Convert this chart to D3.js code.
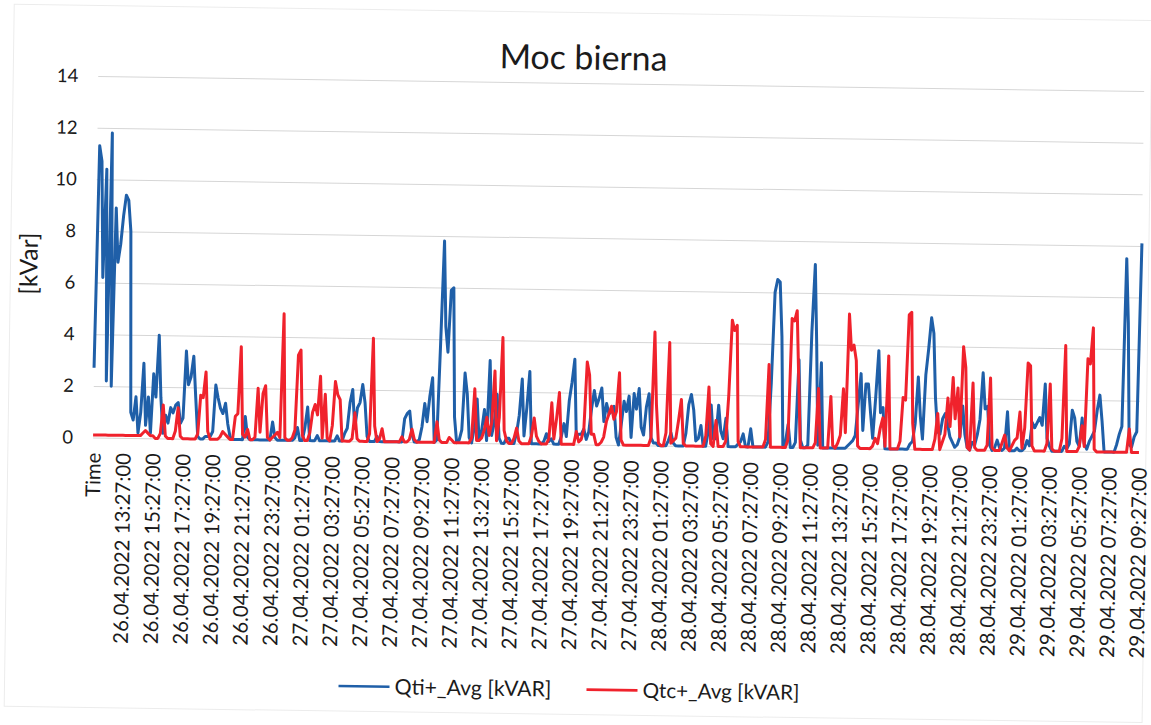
<!DOCTYPE html>
<html>
<head>
<meta charset="utf-8">
<script src="https://cdn.jsdelivr.net/npm/d3@7"></script>
<style>
  body { margin: 0; background: #fff; }
  text { font-family: Lato, "Open Sans", sans-serif; fill: #1b1b1b; }
</style>
</head>
<body>
<div id="chart"></div>
<script>
// category labels shown every 12th sample (10 min readings)
const timeLabels = ["Time",
  "26.04.2022 13:27:00", "26.04.2022 15:27:00", "26.04.2022 17:27:00", "26.04.2022 19:27:00",
  "26.04.2022 21:27:00", "26.04.2022 23:27:00",
  "27.04.2022 01:27:00", "27.04.2022 03:27:00", "27.04.2022 05:27:00", "27.04.2022 07:27:00",
  "27.04.2022 09:27:00", "27.04.2022 11:27:00", "27.04.2022 13:27:00", "27.04.2022 15:27:00",
  "27.04.2022 17:27:00", "27.04.2022 19:27:00", "27.04.2022 21:27:00", "27.04.2022 23:27:00",
  "28.04.2022 01:27:00", "28.04.2022 03:27:00", "28.04.2022 05:27:00", "28.04.2022 07:27:00",
  "28.04.2022 09:27:00", "28.04.2022 11:27:00", "28.04.2022 13:27:00", "28.04.2022 15:27:00",
  "28.04.2022 17:27:00", "28.04.2022 19:27:00", "28.04.2022 21:27:00", "28.04.2022 23:27:00",
  "29.04.2022 01:27:00", "29.04.2022 03:27:00", "29.04.2022 05:27:00", "29.04.2022 07:27:00",
  "29.04.2022 09:27:00"];

// Qti+_Avg [kVAR]
const qti = [
  2.7, 11.3, 10.7, 6.2, 10.4, 2.2, 11.8, 2.0, 8.9, 6.8, 7.5, 8.6,
  9.4, 9.2, 8.0, 1.0, 0.7, 1.6, 0.2, 1.0, 2.9, 0.5, 1.6, 0.2,
  2.5, 1.6, 4.0, 1.6, 0.2, 0.9, 0.6, 1.2, 1.0, 1.3, 1.4, 0.6,
  0.8, 3.4, 2.1, 2.4, 3.2, 1.6, 0.1, 0, 0, 0.1, 0.1, 0.1,
  0.3, 2.1, 1.6, 1.2, 1.0, 1.4, 0.6, 0.1, 0, 0, 0, 0,
  0, 0.9, 0.1, 0, 0, 0, 0, 0, 0, 0, 0, 0,
  0.7, 0.1, 0, 0, 0, 0, 0, 0, 0, 0.1, 0.5, 0,
  0, 0.5, 1.3, 0, 0, 0, 0.2, 0, 0, 0, 0, 0,
  0, 0, 0.2, 0, 0, 0.3, 0.5, 1.5, 2.0, 0.5, 1.3,
  1.5, 2.2, 1.5, 0.2, 0, 0, 0, 0.2, 0, 0, 0, 0,
  0, 0, 0, 0, 0, 0, 0.9, 1.1, 1.2, 0.3, 0, 0,
  0.1, 0.6, 1.5, 0.8, 1.8, 2.5, 0, 0.1, 3.8, 7.8, 4.5, 3.5,
  5.9, 6.0, 1.0, 0, 0.1, 0.5, 2.7, 1.9, 0.2, 0, 0.6, 1.7,
  0.1, 0.5, 1.3, 0.1, 3.2, 0.3, 0.8, 1.9, 0.2, 0, 0, 0.2,
  0.2, 0, 0, 0.4, 1.1, 2.5, 0.3, 1.4, 2.8, 0, 0, 0,
  0, 0, 0.1, 0.4, 0.1, 0.2, 0, 0, 0, 0.3, 0.8, 0.3,
  1.7, 2.4, 3.3, 0.3, 0.4, 0.4, 0.6, 0.2, 0.5, 1.4, 2.1,
  1.5, 1.8, 2.2, 0.9, 1.6, 1.2, 1.3, 1.5, 0.3, 0, 0.8, 1.7,
  1.3, 1.9, 0.3, 2.0, 1.4, 2.2, 0.7, 0.4, 1.5, 2.0, 0.3, 0.1,
  0.1, 0, 0, 0, 0, 0.2, 0.5, 0.1, 0, 0, 0, 0,
  0.5, 1.6, 2.0, 1.4, 0.2, 0.3, 0.8, 0, 0, 0.6, 1.6, 0.3,
  0.3, 1.6, 0.6, 0.3, 1.1, 0, 0, 0, 0, 0.1, 0.2, 0.5,
  0, 0, 0.7, 0, 0, 0, 0, 0, 0, 0.2, 2.5, 6.0,
  6.5, 6.4, 4.3, 0, 0.2, 0.9, 0, 0, 0.2, 3.4, 0.3, 0,
  0, 0.1, 4.5, 7.1, 4.0, 0.1, 3.3, 0, 0, 0, 0, 0,
  0, 0, 0, 0, 0, 0.1, 0.2, 0.3, 0.5, 1.7, 2.9, 0.7,
  2.5, 2.5, 1.4, 0.4, 2.0, 3.8, 1.4, 1.6, 0, 0, 0,
  0, 0, 0, 0, 0, 0, 0, 0.2, 0.3, 1.0, 2.8, 1.3,
  0.4, 2.9, 3.9, 5.1, 4.5, 2.0, 0.7, 0.6, 1.2, 1.4, 1.0, 0.5,
  0.3, 0.1, 0.2, 0.5, 1.7, 0.6, 0.1, 0, 0.3, 0.2, 0.6, 1.2,
  3.0, 1.6, 1.7, 0.2, 0, 0.1, 0.4, 0.1, 0, 0.1, 1.5, 0,
  0, 0, 0.1, 0, 0, 0.1, 0.4, 0.2, 1.1, 0.9, 1.1, 1.3,
  1.0, 2.6, 0.5, 0.2, 0, 0, 0, 0, 0, 0.2, 0.1, 0.3,
  1.6, 1.3, 0.4, 0.2, 1.3, 0.3, 0.1, 0.4, 0.6, 0.8, 1.6, 2.2,
  1.2, 0, 0, 0, 0, 0, 0.3, 0.7, 1.0, 7.5, 5.0, 0.3, 0.2, 0.6, 0.8, 8.1
];

// Qtc+_Avg [kVAR]
const qtc = [
  0.1, 0.1, 0.1, 0.1, 0.1, 0.1, 0.1, 0.1, 0.1, 0.1, 0.1, 0.1,
  0.1, 0.1, 0.1, 0.1, 0.1, 0.1, 0.1, 0.1, 0.2, 0.3, 0.2, 0.1,
  0.1, 0, 0, 0.2, 1.3, 0.1, 0, 0, 0, 0.3, 1.2, 0.1,
  0, 0, 0, 0, 0, 0, 0.2, 1.7, 1.6, 2.6, 0.3, 0,
  0, 0, 0, 0.1, 0.3, 0.2, 0.1, 0, 0, 0.9, 1.0, 3.6,
  0.2, 0.1, 0.4, 0, 0, 0.1, 2.0, 0.3, 1.8, 2.1, 0.1, 0,
  0.1, 0.2, 0.3, 0.1, 4.9, 0.1, 0, 0, 0.1, 0.4, 3.3, 3.5,
  0.2, 0, 0, 0.3, 1.1, 1.4, 1.0, 2.5, 0.1, 1.8, 0.1, 0,
  0.6, 2.3, 1.8, 1.6, 0, 0, 0, 0, 0.1, 1.1, 0.1,
  0, 0, 0, 0, 0.3, 4.0, 0.6, 0, 0.1, 0.5, 0, 0,
  0, 0, 0, 0, 0, 0.2, 0, 0, 0.1, 0.5, 0.1, 0,
  0, 0, 0, 0, 0, 0, 0, 0.8, 0.1, 0, 0, 0,
  0.2, 0.1, 0, 0, 0, 0, 0, 0, 0, 0.2, 2.1, 0.1,
  0.1, 0.2, 0.5, 1.0, 0.3, 0.8, 2.8, 0.1, 1.0, 4.1, 0.5, 0.1,
  0, 0, 0.2, 0.6, 0.1, 0, 0, 0, 0, 0.3, 1.0, 0.3,
  0.1, 0, 0, 0, 0.2, 1.6, 0.2, 1.0, 2.0, 0, 0, 0,
  0, 0, 0, 0.5, 0.1, 0.2, 0.6, 3.2, 2.7, 0.4, 0.4,
  0, 0, 0.1, 0.3, 0.9, 1.2, 1.5, 1.0, 1.3, 2.8, 0.2, 0,
  0, 0, 0, 0, 0, 0, 0, 0, 0, 0, 0.3, 4.4,
  1.6, 0.1, 0, 0, 0.5, 4.0, 0.1, 0.2, 0.3, 1.0, 1.8, 0.1,
  0, 0, 0, 0, 0, 0, 0, 0, 0.4, 2.3, 0.1, 0,
  1.0, 0, 0, 0, 0.2, 2.0, 4.9, 4.5, 4.7, 0.2, 0, 0,
  0, 0, 0, 0, 0, 0, 0, 0, 0.3, 3.2, 0, 0,
  0, 0, 0, 0, 0, 0.3, 5.0, 4.9, 5.3, 2.6, 0, 0,
  0, 0, 0, 0, 0.2, 2.3, 0, 0, 0, 0, 2.0, 0.1,
  0, 0.2, 0.5, 2.3, 0.6, 5.2, 3.8, 4.0, 3.4, 0.1, 0, 0,
  0, 0, 0, 0.1, 0.4, 0.2, 0.8, 1.2, 0.1, 3.6, 0,
  0, 0, 0, 0.3, 2.0, 1.9, 5.2, 5.3, 1.0, 0, 0, 0,
  0, 0, 0, 0, 0, 0.4, 1.4, 0, 0.3, 0.6, 2.0, 0.9,
  2.8, 1.2, 2.4, 0.5, 4.0, 3.2, 0.1, 0, 2.6, 0.1, 0, 0,
  0, 0, 0.2, 2.8, 0.1, 0, 0, 0, 0.3, 0.6, 0.1, 0,
  0.2, 0.4, 0.5, 1.5, 0.1, 0.9, 3.4, 3.3, 0.2, 0, 0, 0,
  0, 0, 0.3, 2.6, 0.1, 0, 0, 0, 0.5, 4.1, 0, 0,
  0, 0, 0, 0.2, 1.0, 0.2, 3.6, 3.4, 4.8, 0.1, 0, 0,
  0, 0, 0, 0, 0, 0, 0, 0, 0, 0, 0, 0.9, 0, 0, 0, 0
];

const yTicks = [0, 2, 4, 6, 8, 10, 12, 14];
const seriesNames = ["Qti+_Avg [kVAR]", "Qtc+_Avg [kVAR]"];
const seriesColors = ["#1f5fa8", "#f0222c"];

const width = 1151, height = 725;
const plot = {left: 93, right: 1139, top: 83.5, bottom: 445};

// squeeze text to a given width (keeps glyph proportions)
function fitWidth(sel, target) {
  sel.each(function() {
    const len = this.getComputedTextLength();
    const fs = parseFloat(d3.select(this).style("font-size"));
    d3.select(this).style("font-size", (fs * target / len) + "px");
  });
}

const svg = d3.select("#chart")
  .append("svg")
    .attr("width", width)
    .attr("height", height);

// the reference is a slightly skewed scan
const g = svg.append("g")
  .attr("transform", "rotate(0.82, 616, 445)");

g.append("rect")
  .attr("x", 8).attr("y", 13)
  .attr("width", 1138).attr("height", 702)
  .attr("fill", "none")
  .attr("stroke", "#ececec");

const x = d3.scaleLinear()
  .domain([0, qti.length - 1])
  .range([plot.left, plot.right]);

const y = d3.scaleLinear()
  .domain([0, 14])
  .range([plot.bottom, plot.top]);

// Y axis with gridlines
const yAxis = g.append("g")
  .attr("transform", `translate(${plot.left},0)`)
  .call(d3.axisLeft(y)
    .tickValues(yTicks)
    .tickSize(-(plot.right - plot.left))
    .tickPadding(20));
yAxis.select(".domain").remove();
yAxis.selectAll("line").attr("stroke", "#d6d6d6").attr("stroke-width", 1);
yAxis.selectAll("text")
  .style("font-size", "18.5px")
  .style("font-family", "Lato")
  .attr("fill", "#1b1b1b");

// X axis (category labels)
const xAxis = g.append("g")
  .attr("transform", `translate(0,${plot.bottom})`)
  .call(d3.axisBottom(x)
    .tickValues(timeLabels.map((d, i) => i * 12))
    .tickFormat(i => timeLabels[i / 12])
    .tickSize(0));
xAxis.select(".domain").remove();
xAxis.selectAll("text")
  .attr("transform", "rotate(-90)")
  .attr("x", -15)
  .attr("y", 0)
  .attr("dy", "0.36em")
  .style("text-anchor", "end")
  .style("font-family", "Lato")
  .style("font-size", "20px")
  .attr("fill", "#1b1b1b");
const first = xAxis.selectAll("text").filter(d => d === 12);
fitWidth(first, 191);
const xFs = first.style("font-size");
xAxis.selectAll("text").style("font-size", xFs);

// lines
const line = d3.line()
  .x((d, i) => x(i))
  .y(d => y(d));

[qti, qtc].forEach((s, k) => {
  g.append("path")
    .datum(s)
    .attr("fill", "none")
    .attr("stroke", seriesColors[k])
    .attr("stroke-width", 3)
    .attr("stroke-linejoin", "round")
    .attr("d", line);
});

// title
const title = g.append("text")
  .attr("x", 578)
  .attr("y", 70)
  .attr("text-anchor", "middle")
  .style("font-size", "27px")
  .text("Moc bierna");
fitWidth(title, 168);

// y axis title
const yTitle = g.append("text")
  .attr("transform", "rotate(-90)")
  .attr("x", -272)
  .attr("y", 35)
  .attr("text-anchor", "middle")
  .style("font-size", "20px")
  .text("[kVar]");
fitWidth(yTitle, 62);

// legend
const legend = g.append("g")
  .attr("transform", "translate(342, 690)");

const legendItems = legend.selectAll(".legend-item")
  .data(seriesNames)
  .enter().append("g")
  .attr("class", "legend-item")
  .attr("transform", (d, i) => `translate(${i * 248}, 0)`);

legendItems.append("line")
  .attr("x1", 0).attr("x2", 51)
  .attr("y1", 0).attr("y2", 0)
  .attr("stroke", (d, i) => seriesColors[i])
  .attr("stroke-width", 2.6);

const legendText = legendItems.append("text")
  .attr("x", 56)
  .attr("y", 0)
  .attr("dy", "0.35em")
  .style("font-size", "19px")
  .text(d => d);
fitWidth(legendText, 157);
</script>
</body>
</html>
